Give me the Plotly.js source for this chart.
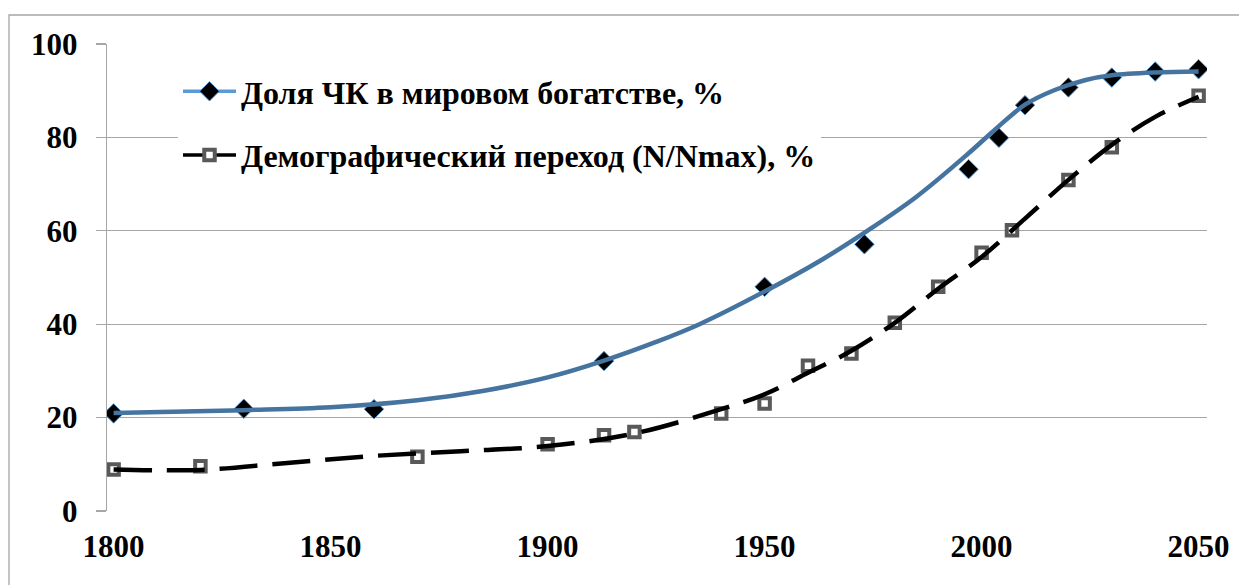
<!DOCTYPE html>
<html><head><meta charset="utf-8">
<script src="https://cdn.plot.ly/plotly-3.0.1.min.js"></script>
<style>html,body{margin:0;padding:0;background:#fff}#chart{width:1239px;height:585px}</style>
</head><body><div id="chart"></div>
<script>
// ---- data ----
const wealthYears = [1800,1830,1860,1913,1950,1973,1997,2004,2010,2020,2030,2040,2050];
const wealthShare = [20.9,21.9,21.8,32.1,48.0,57.1,73.2,79.9,86.9,90.7,92.8,94.1,94.6];
const wealthFitYears = [1800,1830,1850,1870,1885,1900,1913,1925,1935,1950,1963,1974,1985,1997,2003,2010,2017,2024,2030,2040,2050];
const wealthFit = [21.0,21.6,22.2,23.7,25.7,28.6,32.2,36.2,40.0,47.0,53.7,60.2,67.3,76.6,81.6,87.0,90.2,92.3,93.3,93.9,94.1];
const demoYears = [1800,1820,1870,1900,1913,1920,1940,1950,1960,1970,1980,1990,2000,2007,2020,2030,2050];
const demoShare = [8.9,9.6,11.6,14.3,16.2,16.9,20.9,23.0,31.1,33.7,40.3,48.0,55.3,60.1,70.9,77.9,88.9];
const demoFitYears = [1800,1820,1840,1860,1880,1900,1920,1940,1950,1960,1970,1980,1990,2000,2010,2020,2030,2040,2050];
const demoFit = [8.9,8.8,10.3,11.8,12.8,13.9,16.6,21.8,25.0,29.6,34.3,40.3,47.6,54.4,62.6,70.9,78.4,84.4,88.7];
const seriesNames = ['Доля ЧК в мировом богатстве, %','Демографический переход (N/Nmax), %'];
const xTicks = [1800,1850,1900,1950,2000,2050];
const yTicks = [0,20,40,60,80,100];

// points separated by gaps so the legend shows line+marker but no polyline is drawn
function isolate(xs, ys){
  const X=[],Y=[];
  xs.forEach((x,i)=>{ if(i){X.push(x);Y.push(null);} X.push(x);Y.push(ys[i]); });
  return {X,Y};
}
const wm = isolate(wealthYears, wealthShare);
const dm = isolate(demoYears, demoShare);

const FONT = 'Liberation Serif';
const GRID = '#A6A6A6';

// geometry (pixels)
const L=107, R=1207, T=44, B=511;
const pw = R-L, ph = B-T;
const pxPerYear = 4.34;
const span = pw/pxPerYear;
const gridShift = 6.6/pxPerYear; // gridlines sit slightly left of labels in the reference
const px2x = p => (p-L)/pw;
const px2y = p => (B-p)/ph;
const tf = {family:FONT, size:31, color:'#000', weight:'bold'};
const lf = {family:FONT, size:32, color:'#000', weight:'bold'};

const traces = [
  {x: wm.X, y: wm.Y, mode:'lines+markers', name: seriesNames[0], legendgroup:'a',
   connectgaps:false, line:{color:'#5B9BD5', width:3.5},
   marker:{symbol:'diamond', size:15, color:'#000', line:{color:'#5B9BD5', width:1}}},
  {x: dm.X, y: dm.Y, mode:'lines+markers', name: seriesNames[1], legendgroup:'b',
   connectgaps:false, line:{color:'#000', width:3.5},
   marker:{symbol:'square', size:10.5, color:'#fff', line:{color:'#595959', width:4}}},
  {x: wealthFitYears, y: wealthFit, mode:'lines', showlegend:false,
   line:{color:'#44749F', width:4.5, shape:'spline', smoothing:1}},
  {x: demoFitYears, y: demoFit, mode:'lines', showlegend:false,
   line:{color:'#000', width:4.5, shape:'spline', smoothing:1, dash:'38px,15px'}}
];

const layout = {
  width:1239, height:585,
  margin:{l:L, r:1239-R, t:T, b:585-B, pad:0},
  paper_bgcolor:'#fff', plot_bgcolor:'#fff',
  showlegend:true,
  font:tf,
  xaxis:{range:[1800-gridShift, 1800-gridShift+span], tickvals:xTicks, ticktext:xTicks.map(String),
         showgrid:false, zeroline:false, showline:false, ticks:'',
         tickfont:tf, ticklabelstandoff:14},
  xaxis2:{overlaying:'x', side:'bottom', anchor:'y', range:[1800, 1800+span], tickvals:xTicks,
          showgrid:true, gridcolor:GRID, gridwidth:1.2, zeroline:false, showticklabels:false,
          ticks:'outside', ticklen:10, tickcolor:GRID, tickwidth:1.2,
          showline:true, linecolor:GRID, linewidth:1.2},
  yaxis:{range:[0,100], tickvals:yTicks, showgrid:true, gridcolor:GRID, gridwidth:1.2,
         zeroline:false, showline:true, linecolor:GRID, linewidth:1.2,
         ticks:'outside', ticklen:10, tickcolor:GRID, tickwidth:1.2,
         tickfont:tf, ticklabelstandoff:12},
  legend:{x:px2x(178), y:px2y(64), xanchor:'left', yanchor:'top', bgcolor:'#fff',
          borderwidth:0, traceorder:'grouped', tracegroupgap:19, itemwidth:53,
          font:lf},
  shapes:[
    {type:'rect', xref:'paper', yref:'paper', x0:px2x(9), x1:px2x(1300), y0:px2y(700), y1:px2y(15),
     line:{color:'#A6A6A6', width:1.3}, fillcolor:'rgba(0,0,0,0)', layer:'below'},
    // legend box background extends a little to the left of the legend items
    {type:'rect', xref:'paper', yref:'paper', x0:px2x(152), x1:px2x(180), y0:px2y(187), y1:px2y(64),
     line:{width:0}, fillcolor:'#fff', layer:'between'}
  ]
};

Plotly.newPlot('chart', traces, layout, {displayModeBar:false, staticPlot:true});
</script>
</body></html>
